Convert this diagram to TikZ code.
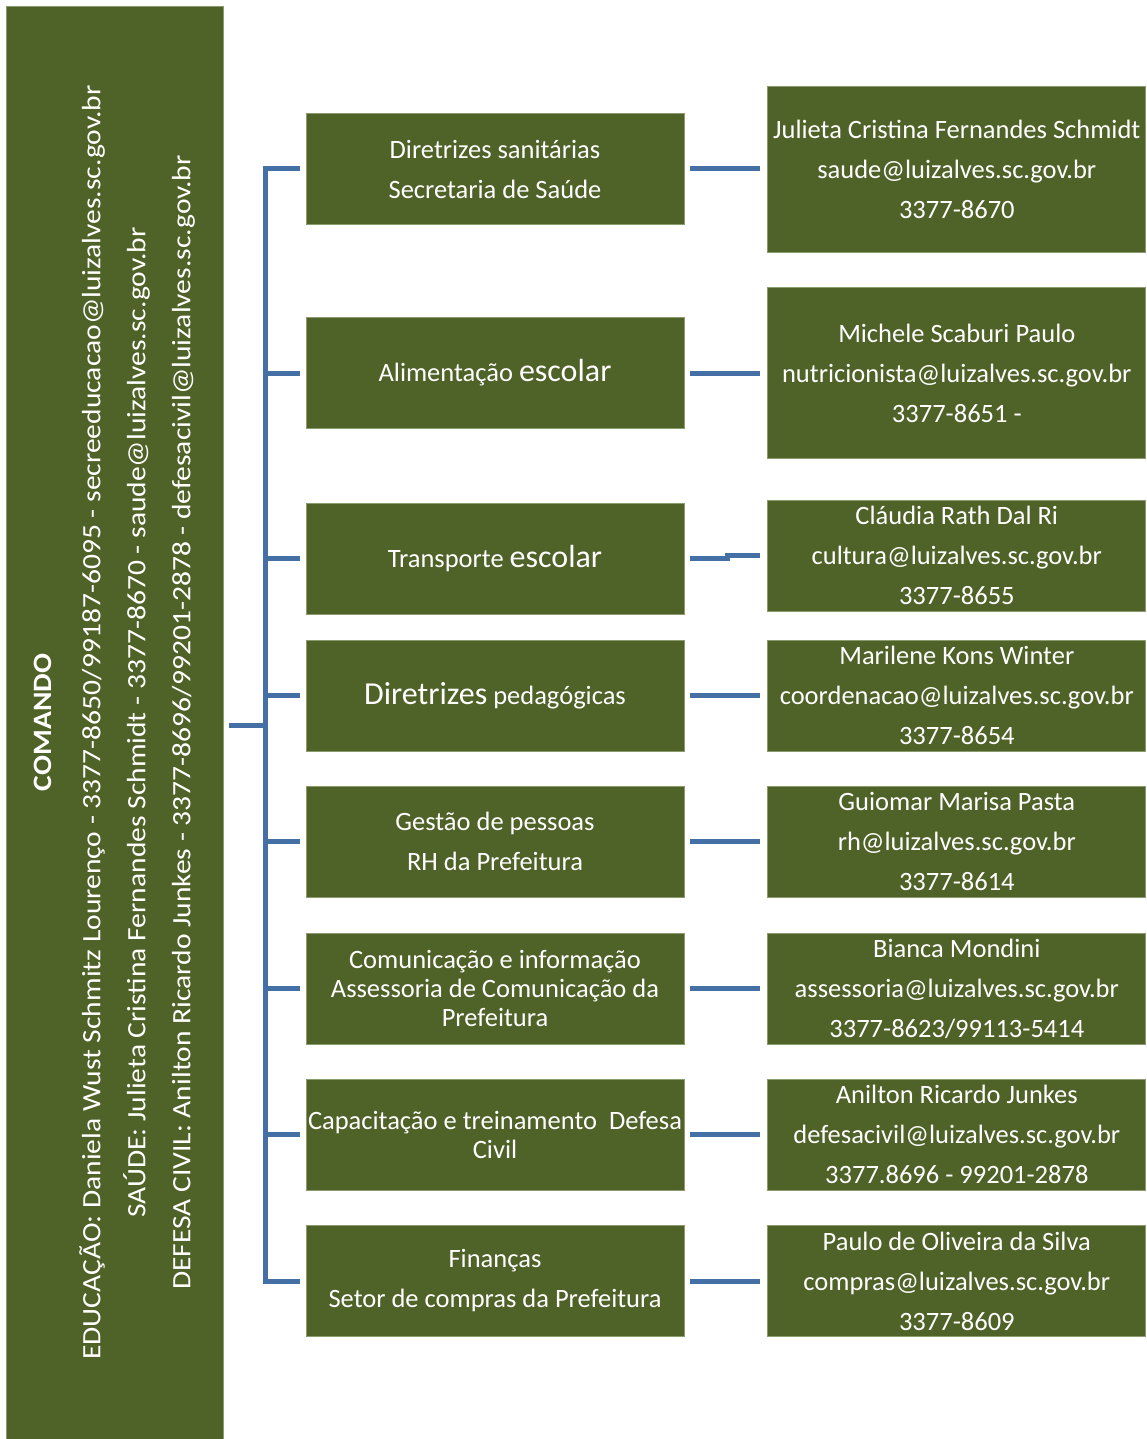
\documentclass[tikz,border=0pt]{standalone}
\usepackage{fontspec}
\usepackage{graphicx}
\setmainfont{Carlito}
\usetikzlibrary{calc,
positioning}
\definecolor{verde}{HTML}{4F6228}
\definecolor{borda}{HTML}{8C9B6E}
\definecolor{azul}{HTML}{4570A6}
\newcommand{\maior}[1]{{\fontsize{32}{40}\selectfont #1}}
\newcommand{\esticar}[1]{\scalebox{1.115}[1]{#1}}

\begin{document}
\begin{tikzpicture} [x=1pt,
    y=-1pt,
    main node/.style={rectangle, fill = verde, draw = borda,
        line width = 0.8pt, text = white, inner sep = 0pt,
        minimum width = 378, minimum height = 111,
        font = \fontsize{26.5}{40}\selectfont, align=center},
    liga/.style={draw = azul, line width = 5pt}
  ]

  \useasboundingbox (0, 0) rectangle (1146, 1439);

  \node [main node,
    rotate = 90,
    minimum width = 1433,
    minimum height = 217,
    font = \fontsize{26.5}{45}\selectfont
  ] (cmd) at (114.5, 722.5) {\esticar{\textbf{COMANDO}}\\[4pt]
    \esticar{EDUCAÇÃO: Daniela Wust Schmitz Lourenço - 3377-8650/99187-6095 - secreeducacao@luizalves.sc.gov.br}\\
    \esticar{SAÚDE: Julieta Cristina Fernandes Schmidt - 3377-8670 - saude@luizalves.sc.gov.br}\\
    \esticar{DEFESA CIVIL: Anilton Ricardo Junkes - 3377-8696/99201-2878 - defesacivil@luizalves.sc.gov.br}};

  \coordinate (tronco) at (265, 725);

  %%%%%%%%%%%%%%%%%%%%%%%%%%%%%%

  \node [main node] (dirsan) at (495, 169) {Diretrizes sanitárias\\Secretaria de Saúde};

  \node [main node] (alim) at (495, 373) {Alimentação \maior{escolar}};

  \node [main node] (transp) at (495, 558.5) {Transporte \maior{escolar}};

  \node [main node] (pedag) at (495, 695.5) {\maior{Diretrizes} pedagógicas};

  \node [main node] (gestao) at (495, 841.5) {Gestão de pessoas\\RH da Prefeitura};

  \node [main node,
    font = \fontsize{26.5}{29}\selectfont
  ] (comun) at (495, 988.5) {Comunicação e informação\\Assessoria de Comunicação da\\Prefeitura};

  \node [main node,
    font = \fontsize{26.5}{29}\selectfont
  ] (capac) at (495, 1134.5) {Capacitação e treinamento\ \ Defesa\\Civil};

  \node [main node] (financ) at (495, 1281) {Finanças\\Setor de compras da Prefeitura};

  %%%%%%%%%%%%%%%%%%%%%%%%%%%%%%

  \node [main node,
    minimum height = 166,
    right = 83pt of dirsan
  ] (julieta) {Julieta Cristina Fernandes Schmidt\\saude@luizalves.sc.gov.br\\3377-8670};

  \node [main node,
    minimum height = 171,
    right = 83pt of alim
  ] (michele) {Michele Scaburi Paulo\\nutricionista@luizalves.sc.gov.br\\3377-8651 -};

  \node [main node,
    right = 83pt of transp,
    yshift = 3pt
  ] (claudia) {Cláudia Rath Dal Ri\\cultura@luizalves.sc.gov.br\\3377-8655};

  \node [main node,
    right = 83pt of pedag
  ] (marilene) {Marilene Kons Winter\\coordenacao@luizalves.sc.gov.br\\3377-8654};

  \node [main node,
    right = 83pt of gestao
  ] (guiomar) {Guiomar Marisa Pasta\\rh@luizalves.sc.gov.br\\3377-8614};

  \node [main node,
    right = 83pt of comun
  ] (bianca) {Bianca Mondini\\assessoria@luizalves.sc.gov.br\\3377-8623/99113-5414};

  \node [main node,
    right = 83pt of capac
  ] (anilton) {Anilton Ricardo Junkes\\defesacivil@luizalves.sc.gov.br\\3377.8696 - 99201-2878};

  \node [main node,
    right = 83pt of financ
  ] (paulo) {Paulo de Oliveira da Silva\\compras@luizalves.sc.gov.br\\3377-8609};

  %%%%%%%%%%%%%%%%%%%%%%%%%%%%%%

  \draw [liga, shorten <=6pt] (cmd.south |- tronco) -- (tronco);
  \draw [liga, line cap=rect] (tronco |- dirsan.west) -- (tronco |- financ.west);
  \foreach \n in {dirsan, alim, transp, pedag, gestao, comun, capac, financ}
    \draw [liga] (tronco |- \n.west) -- ([xshift=-6pt]\n.west);

  \draw [liga, shorten <=6pt, shorten >=7pt] (dirsan) -- (julieta);
  \draw [liga, shorten <=6pt, shorten >=7pt] (alim) -- (michele);
  \draw [liga, shorten <=6pt, shorten >=7pt] (transp.east) -- ++(43, 0) |- (claudia.west);
  \draw [liga, shorten <=6pt, shorten >=7pt] (pedag) -- (marilene);
  \draw [liga, shorten <=6pt, shorten >=7pt] (gestao) -- (guiomar);
  \draw [liga, shorten <=6pt, shorten >=7pt] (comun) -- (bianca);
  \draw [liga, shorten <=6pt, shorten >=7pt] (capac) -- (anilton);
  \draw [liga, shorten <=6pt, shorten >=7pt] (financ) -- (paulo);

\end{tikzpicture}
\end{document}
